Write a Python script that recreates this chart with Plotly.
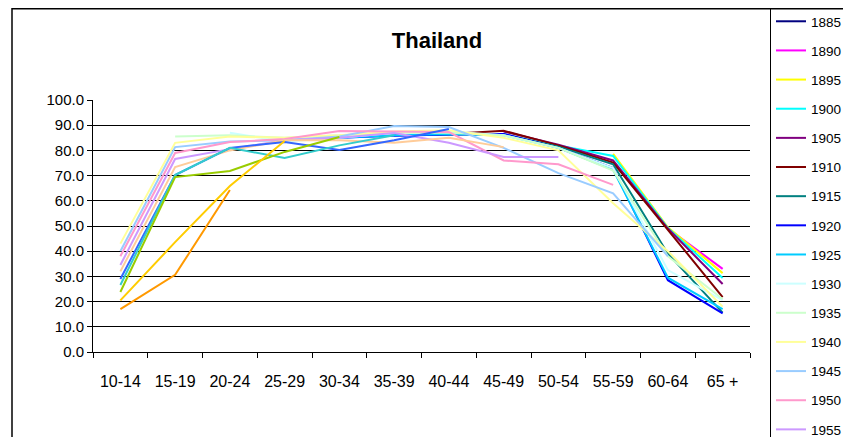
import plotly.graph_objects as go

N = None
ages = ["10-14", "15-19", "20-24", "25-29", "30-34", "35-39", "40-44",
        "45-49", "50-54", "55-59", "60-64", "65 +"]
y_ticks = [0, 10, 20, 30, 40, 50, 60, 70, 80, 90, 100]

cohorts = ["1885", "1890", "1895", "1900", "1905", "1910", "1915", "1920", "1925",
           "1930", "1935", "1940", "1945", "1950", "1955", "1960", "1965", "1970",
           "1975", "1980", "1985"]

y1885 = [N, N, N, N, N, N, N, N, N, N, N, 34.0]
y1890 = [N, N, N, N, N, N, N, N, N, N, 49.0, 33.0]
y1895 = [N, N, N, N, N, N, N, N, N, 78.6, 49.5, 31.3]
y1900 = [N, N, N, N, N, N, N, N, 82.0, 77.8, 49.2, 29.4]
y1905 = [N, N, N, N, N, N, N, 87.5, 82.3, 76.0, 49.0, 27.0]
y1910 = [N, N, N, N, N, N, 86.5, 87.8, 82.0, 75.2, 48.5, 21.8]
y1915 = [N, N, N, N, N, 86.0, 86.3, 86.5, 81.5, 74.5, 39.0, 15.6]
y1920 = [N, N, N, N, 85.0, 85.8, 86.3, 86.5, 81.0, 73.0, 28.5, 15.3]
y1925 = [N, N, N, 84.0, 85.0, 86.0, 86.5, 86.0, 81.0, 72.3, 29.5, 17.0]
y1930 = [N, N, 87.0, 83.5, 85.0, 87.0, 87.5, 86.0, 81.0, 73.0, 32.5, 20.6]
y1935 = [N, 85.5, 86.0, 85.0, 86.0, 87.0, 87.0, 86.0, 81.0, 72.0, 38.0, 21.0]
y1940 = [43.0, 83.0, 85.5, 85.0, 86.0, 87.5, 88.0, 85.0, 80.0, 59.0, 40.0, 18.0]
y1945 = [40.0, 81.3, 83.5, 84.0, 85.5, 89.7, 89.3, 81.0, 71.0, 63.0, 38.0, N]
y1950 = [38.0, 79.0, 83.3, 84.5, 87.7, 87.5, 87.3, 76.0, 74.5, 66.3, N, N]
y1955 = [34.5, 76.6, 80.5, 84.0, 85.0, 86.9, 83.0, 77.4, 77.4, N, N, N]
y1960 = [32.0, 73.4, 80.0, 84.0, 84.0, 83.0, 85.0, 81.3, N, N, N, N]
y1965 = [29.0, 70.2, 81.0, 83.3, 80.2, 84.0, 88.5, N, N, N, N, N]
y1970 = [26.6, 70.2, 81.0, 77.0, 82.0, 86.0, N, N, N, N, N, N]
y1975 = [23.8, 69.4, 71.8, 79.4, 85.3, N, N, N, N, N, N, N]
y1980 = [20.5, 43.6, 65.9, 83.7, N, N, N, N, N, N, N, N]
y1985 = [17.0, 30.6, 64.3, N, N, N, N, N, N, N, N, N]

series = [y1885, y1890, y1895, y1900, y1905, y1910, y1915, y1920, y1925, y1930,
          y1935, y1940, y1945, y1950, y1955, y1960, y1965, y1970, y1975, y1980, y1985]

colors = ["#000080", "#FF00FF", "#FFFF00", "#00FFFF", "#800080", "#800000", "#008080",
          "#0000FF", "#00CCFF", "#CCFFFF", "#CCFFCC", "#FFFF99", "#99CCFF", "#FF99CC",
          "#CC99FF", "#FFCC99", "#3366FF", "#33CCCC", "#99CC00", "#FFCC00", "#FF9900"]

FONT = "Liberation Sans, Arial, sans-serif"

fig = go.Figure()
for name, vals, col in zip(cohorts, series, colors):
    fig.add_trace(go.Scatter(x=ages, y=vals, name=name, mode="lines",
                             line=dict(color=col, width=2), legendgroup=name))

# The page body has an 8px margin, so work in figure pixels = screen pixels - 8.
O = 8
W, H = 851 - O, 437 - O
L, R, T, B = 93 - O, 750 - O, 100 - O, 352 - O   # plot area in figure pixels
def px(x):   # screen x -> paper
    return (x - O - L) / (R - L)
def py(y):   # screen y -> paper
    return (B - (y - O)) / (B - T)

fig.update_layout(
    width=W, height=H,
    margin=dict(l=L, r=W - R, t=T, b=H - B, autoexpand=False),
    paper_bgcolor="white", plot_bgcolor="white",
    font=dict(family=FONT, size=16, color="black"),
    title=dict(text="<b>Thailand</b>", x=px(437), xref="paper", xanchor="center",
               y=1 - (40 - O) / H, yref="container", yanchor="middle",
               font=dict(family=FONT, size=22, color="black")),
    showlegend=True,
    legend=dict(x=px(770), xanchor="left", y=py(5), yanchor="top",
                bordercolor="black", borderwidth=1, bgcolor="rgba(255,255,255,0)",
                font=dict(family=FONT, size=13.5, color="black"),
                tracegroupgap=8.6, itemwidth=30, maxheight=1000),
    xaxis=dict(type="category", categoryorder="array", categoryarray=ages,
               range=[-0.5, 11.5], showline=True, linecolor="black", linewidth=1,
               ticks="outside", tickson="boundaries", ticklen=5, tickcolor="black",
               showgrid=False, zeroline=False, ticklabelstandoff=15,
               tickfont=dict(family=FONT, size=16, color="black")),
    yaxis=dict(range=[0, 100], tickvals=y_ticks, tickformat=".1f",
               showline=True, linecolor="black", linewidth=1,
               ticks="outside", ticklen=5, tickcolor="black",
               showgrid=True, gridcolor="black", gridwidth=1, zeroline=False,
               tickfont=dict(family=FONT, size=15, color="black")),
    shapes=[
        dict(type="line", xref="paper", yref="paper", x0=px(12), x1=px(870),
             y0=py(8.8), y1=py(8.8), line=dict(color="black", width=1.5)),
        dict(type="line", xref="paper", yref="paper", x0=px(12), x1=px(12),
             y0=py(8), y1=py(460), line=dict(color="black", width=1.5)),
    ],
)

fig.write_html("out.html")
